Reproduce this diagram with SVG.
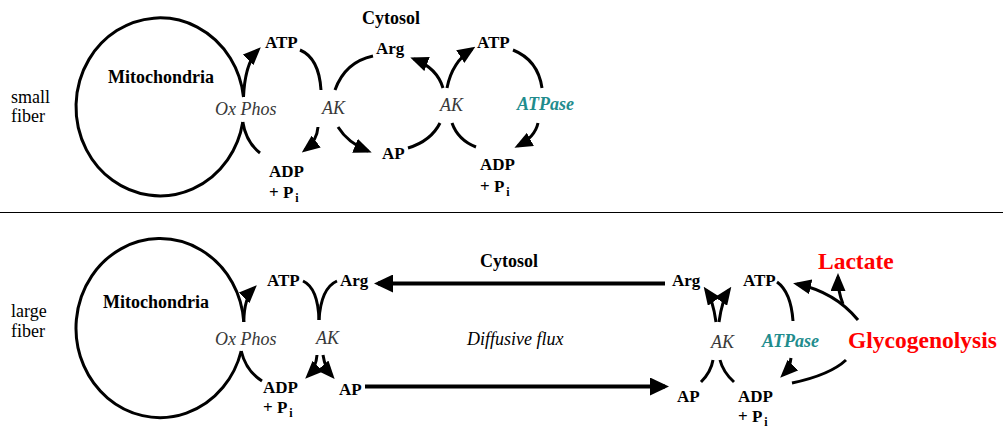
<svg xmlns="http://www.w3.org/2000/svg" width="1005" height="433" viewBox="0 0 1005 433">
  <style>
    .bg { fill: #ffffff; }
    .ln { fill: none; stroke: #000; stroke-width: 3; stroke-linecap: butt; }
    .thick { fill: none; stroke: #000; stroke-width: 4; }
    text { font-family: "Liberation Serif", "Times New Roman", serif; }
    .lab { font-size: 17px; font-weight: bold; fill: #000; }
    .plain { font-size: 18px; fill: #000; }
    .head { font-size: 18px; font-weight: bold; fill: #000; }
    .enz { font-size: 18px; font-style: italic; fill: #383838; }
    .flux { font-size: 18px; font-style: italic; fill: #000; }
    .atpase { font-size: 18px; font-style: italic; font-weight: bold; fill: #218c8d; }
    .red { font-size: 23.5px; font-weight: bold; fill: #ff0000; }
    .sub { font-size: 12px; }
  </style>
  <defs>
    <marker id="ah" markerUnits="userSpaceOnUse" markerWidth="18" markerHeight="15" refX="14" refY="7.5" orient="auto">
      <path d="M0,0 L18,7.5 L0,15 Z" fill="#000"/>
    </marker>
    <marker id="ahBig" markerUnits="userSpaceOnUse" markerWidth="19" markerHeight="18" refX="15" refY="9" orient="auto">
      <path d="M0,0 L19,9 L0,18 Z" fill="#000"/>
    </marker>
  </defs>

  <rect class="bg" x="0" y="0" width="1005" height="433"/>

  <!-- divider between the two fiber types -->
  <line x1="0" y1="212.5" x2="1003" y2="212.5" stroke="#000" stroke-width="1"/>

  <!-- ===== small fiber ===== -->
  <g id="small-fiber-label">
    <text class="plain" x="11" y="103">small</text>
    <text class="plain" x="11" y="122">fiber</text>
  </g>
  <g id="mito-small">
    <path class="ln" d="M243.5,97 A84,89 0 1 0 242.8,122"/>
    <text class="head" x="108" y="83">Mitochondria</text>
  </g>
  <g id="cytosol-small"><text class="head" x="362" y="24">Cytosol</text></g>
  <g id="oxphos-small"><text class="enz" x="215" y="115">Ox Phos</text></g>
  <g id="atp-s1"><text class="lab" x="265" y="47.5">ATP</text></g>
  <g id="adp-s1">
    <text class="lab" x="269" y="177">ADP</text>
    <text class="lab" x="269" y="198">+ P<tspan class="sub" dx="2" dy="4">i</tspan></text>
  </g>
  <g id="ak-s1"><text class="enz" x="322" y="114">AK</text></g>
  <g id="arg-s"><text class="lab" x="376" y="54">Arg</text></g>
  <g id="ap-s"><text class="lab" x="382" y="159">AP</text></g>
  <g id="ak-s2"><text class="enz" x="440" y="111">AK</text></g>
  <g id="atp-s2"><text class="lab" x="477" y="47.5">ATP</text></g>
  <g id="atpase-s"><text class="atpase" x="517" y="110">ATPase</text></g>
  <g id="adp-s2">
    <text class="lab" x="480" y="170">ADP</text>
    <text class="lab" x="480" y="192">+ P<tspan class="sub" dx="2" dy="4">i</tspan></text>
  </g>

  <!-- ===== large fiber ===== -->
  <g id="large-fiber-label">
    <text class="plain" x="11" y="317">large</text>
    <text class="plain" x="11" y="337">fiber</text>
  </g>
  <g id="mito-large">
    <path class="ln" d="M243.8,322 A84,89.5 0 1 0 241.2,351"/>
    <text class="head" x="103" y="308">Mitochondria</text>
  </g>
  <g id="oxphos-large"><text class="enz" x="215" y="345">Ox Phos</text></g>
  <g id="atp-l1"><text class="lab" x="267" y="286">ATP</text></g>
  <g id="arg-l1"><text class="lab" x="340" y="286">Arg</text></g>
  <g id="ak-l1"><text class="enz" x="316" y="344">AK</text></g>
  <g id="adp-l1">
    <text class="lab" x="263" y="393">ADP</text>
    <text class="lab" x="263" y="413">+ P<tspan class="sub" dx="2" dy="4">i</tspan></text>
  </g>
  <g id="ap-l1"><text class="lab" x="339" y="395">AP</text></g>
  <g id="cytosol-large"><text class="head" x="480" y="266.5">Cytosol</text></g>
  <g id="diffusive-flux"><text class="flux" x="467" y="345">Diffusive flux</text></g>
  <g id="arg-l2"><text class="lab" x="672" y="286">Arg</text></g>
  <g id="atp-l2"><text class="lab" x="743" y="286">ATP</text></g>
  <g id="ak-l2"><text class="enz" x="711" y="347.5">AK</text></g>
  <g id="atpase-l"><text class="atpase" x="762" y="347">ATPase</text></g>
  <g id="ap-l2"><text class="lab" x="677" y="401.5">AP</text></g>
  <g id="adp-l2">
    <text class="lab" x="738" y="401.5">ADP</text>
    <text class="lab" x="738" y="422">+ P<tspan class="sub" dx="2" dy="4">i</tspan></text>
  </g>
  <g id="lactate"><text class="red" x="818" y="269">Lactate</text></g>
  <g id="glycogenolysis"><text class="red" x="848" y="348">Glycogenolysis</text></g>

  <!-- ===== reaction arrows ===== -->
  <g id="connectors">
    <!-- small fiber -->
    <path class="ln" d="M243.5,97 Q245,63 258,50" marker-end="url(#ah)"/>
    <path class="ln" d="M242.8,122 Q246,142 260,153"/>
    <path class="ln" d="M300,50 Q319,58 321,90"/>
    <path class="ln" d="M318,127 Q317,141 305,150" marker-end="url(#ah)"/>
    <path class="ln" d="M335,90 Q345,62 373,56"/>
    <path class="ln" d="M338,127 Q348,143 368,151" marker-end="url(#ah)"/>
    <path class="ln" d="M408,148 Q431,141 440,123"/>
    <path class="ln" d="M443,88 Q437,68 414,59" marker-end="url(#ah)"/>
    <path class="ln" d="M447,88 Q452,62 472,49" marker-end="url(#ah)"/>
    <path class="ln" d="M513,50 Q538,60 542,88"/>
    <path class="ln" d="M538,123 Q535,137 518,146" marker-end="url(#ah)"/>
    <path class="ln" d="M476,147 Q458,140 452,123"/>

    <!-- large fiber, mitochondrial side -->
    <path class="ln" d="M243.8,322 Q244,298 254,288" marker-end="url(#ah)"/>
    <path class="ln" d="M241.2,351 Q246,371 262,381"/>
    <path class="ln" d="M303,281 Q318,288 319,320"/>
    <path class="ln" d="M337,281 Q321,288 319,320"/>
    <path class="ln" d="M317,355 Q316,368 308,376" marker-end="url(#ah)"/>
    <path class="ln" d="M323,355 Q325,368 332,376" marker-end="url(#ah)"/>

    <!-- diffusive flux across the cytosol -->
    <line class="thick" x1="665" y1="283.5" x2="378" y2="283.5" marker-end="url(#ahBig)"/>
    <line class="thick" x1="365" y1="386.5" x2="665" y2="386.5" marker-end="url(#ahBig)"/>

    <!-- large fiber, myofibrillar side -->
    <path class="ln" d="M716,322 Q713,300 706,290" marker-end="url(#ah)"/>
    <path class="ln" d="M719,322 Q722,300 729,290" marker-end="url(#ah)"/>
    <path class="ln" d="M713,360 Q711,372 701,382"/>
    <path class="ln" d="M720,360 Q723,372 734,382"/>
    <path class="ln" d="M777,282 Q791,292 793,321"/>
    <path class="ln" d="M791,358 Q790,368 783,375" marker-end="url(#ah)"/>
    <path class="ln" d="M858,320 Q835,292 797,284" marker-end="url(#ah)"/>
    <path class="ln" d="M843,304 Q838,292 838,277" marker-end="url(#ah)"/>
    <path class="ln" d="M846,360 Q830,375 792,383"/>
  </g>
</svg>
